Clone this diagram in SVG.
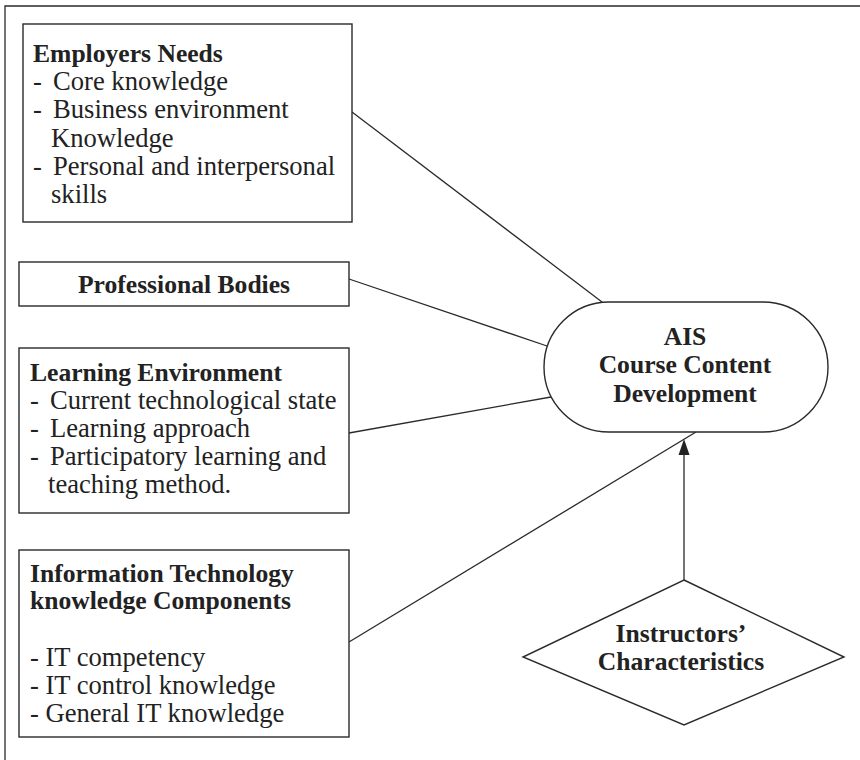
<svg xmlns="http://www.w3.org/2000/svg" width="860" height="760" viewBox="0 0 860 760">
<defs>
<style>
.box{fill:#fff;stroke:#2a2a2a;stroke-width:1.4}
.ln{fill:none;stroke:#2a2a2a;stroke-width:1.3}
.ah{fill:#222;stroke:none}
text{font-family:"Liberation Serif","Times New Roman",serif;fill:#222}
.b{font-weight:bold;font-size:25.6px}
.r{font-size:26.6px}
.c{text-anchor:middle}
</style>
</defs>
<rect width="860" height="760" fill="#fff"/>
<path class="ln" d="M5,760 V6 H860" stroke-width="1.6"/>
<g id="connectors">
<line class="ln" x1="352" y1="112" x2="602" y2="302"/>
<line class="ln" x1="349" y1="279" x2="547" y2="346"/>
<line class="ln" x1="349" y1="433" x2="551" y2="397"/>
<line class="ln" x1="349" y1="642" x2="696" y2="432"/>
<line class="ln" x1="684" y1="580" x2="684" y2="452"/>
<polygon class="ah" points="684,439 689.5,455 678.5,455"/>
</g>
<g id="employers">
<rect class="box" x="23" y="24" width="329" height="198"/>
<text class="b" x="33" y="62">Employers Needs</text>
<text class="r" y="90"><tspan x="33">-</tspan><tspan x="53">Core knowledge</tspan></text>
<text class="r" y="118"><tspan x="33">-</tspan><tspan x="53">Business environment</tspan></text>
<text class="r" x="51" y="147">Knowledge</text>
<text class="r" y="175"><tspan x="33">-</tspan><tspan x="53">Personal and interpersonal</tspan></text>
<text class="r" x="51" y="203">skills</text>
</g>
<g id="professional">
<rect class="box" x="19" y="262" width="330" height="44"/>
<text class="b c" x="184" y="293">Professional Bodies</text>
</g>
<g id="learning">
<rect class="box" x="19" y="348" width="330" height="165"/>
<text class="b" x="30" y="381">Learning Environment</text>
<text class="r" y="409"><tspan x="30">-</tspan><tspan x="50">Current technological state</tspan></text>
<text class="r" y="437"><tspan x="30">-</tspan><tspan x="50">Learning approach</tspan></text>
<text class="r" y="465"><tspan x="30">-</tspan><tspan x="50">Participatory learning and</tspan></text>
<text class="r" x="48" y="493">teaching method.</text>
</g>
<g id="it">
<rect class="box" x="19" y="550" width="330" height="187"/>
<text class="b" x="30" y="582">Information Technology</text>
<text class="b" x="30" y="609">knowledge Components</text>
<text class="r" x="30" y="666">- IT competency</text>
<text class="r" x="30" y="694">- IT control knowledge</text>
<text class="r" x="30" y="722">- General IT knowledge</text>
</g>
<g id="ais">
<rect class="box" x="544" y="302" width="284" height="130" rx="65" ry="65"/>
<text class="b c" x="685" y="345">AIS</text>
<text class="b c" x="685" y="373">Course Content</text>
<text class="b c" x="685" y="402">Development</text>
</g>
<g id="instructors">
<polygon class="box" points="684,580 844,657 684,725 523,657"/>
<text class="b c" x="681" y="642">Instructors’</text>
<text class="b c" x="681" y="670">Characteristics</text>
</g>
</svg>
